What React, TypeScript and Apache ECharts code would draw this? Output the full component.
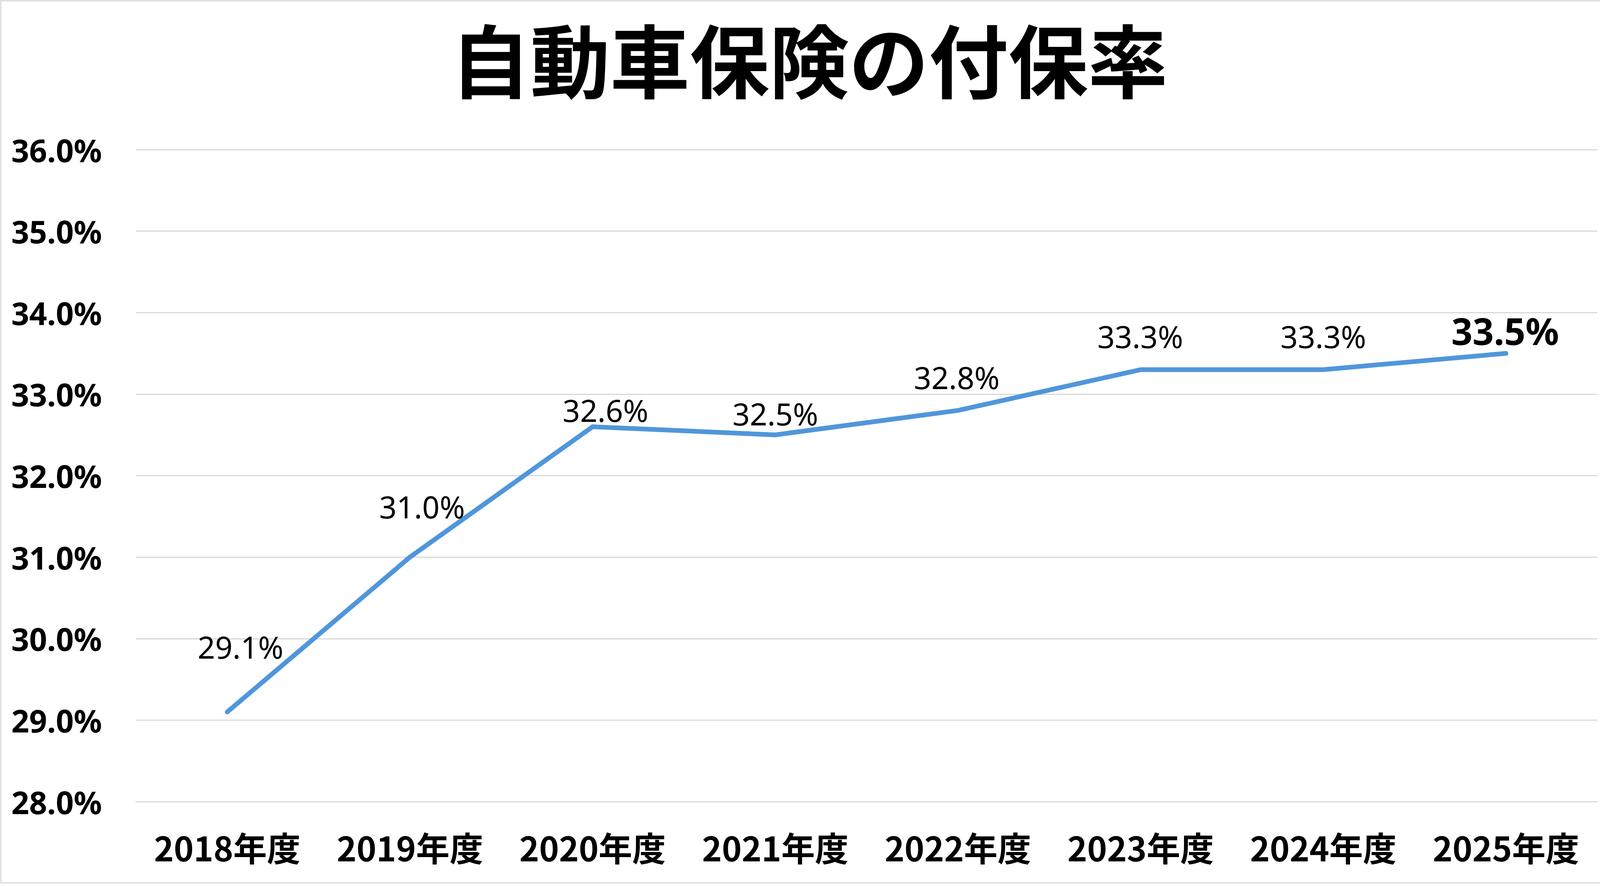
import React, { useEffect, useRef } from "react";
import * as echarts from "echarts";

const titleText = "自動車保険の付保率";
const categories = ["2018年度", "2019年度", "2020年度", "2021年度", "2022年度", "2023年度", "2024年度", "2025年度"];
const rates = [29.1, 31.0, 32.6, 32.5, 32.8, 33.3, 33.3, 33.5];
const yMin = 28;
const yMax = 36;
const yStep = 1;

// label styling (offsets in px relative to point, emphasis on last)
const labelOffsets: [number, number][] = [
  [34, -167],
  [31, -129],
  [33, -42],
  [0, -54],
  [-3, -85],
  [-1, -85],
  [0, -85],
  [-2, -59],
];
const boldIndex = 7;

export default function App() {
  const ref = useRef<HTMLDivElement>(null);
  useEffect(() => {
    document.body.style.margin = "0";
    const chart = echarts.init(ref.current!, undefined, { renderer: "svg" });
    const lineColor = "#5096DA";
    chart.setOption({
      animation: false,
      backgroundColor: "#FFFFFF",
      title: {
        text: titleText,
        left: "center",
        top: 40,
        textStyle: {
          fontFamily: "Noto Sans CJK JP",
          fontWeight: "bold",
          fontSize: 204,
          color: "#000000",
        },
      },
      graphic: [
        {
          type: "rect",
          shape: { x: 2, y: 2, width: 4137, height: 2258 },
          style: { fill: "none", stroke: "#D9D9D9", lineWidth: 3 },
          silent: true,
        },
      ],
      grid: { left: 348, right: 54, top: 383, bottom: 216, containLabel: false },
      xAxis: {
        type: "category",
        data: categories,
        boundaryGap: true,
        axisLine: { show: true, lineStyle: { color: "#D9D9D9", width: 3 } },
        axisTick: { show: false },
        axisLabel: {
          interval: 0,
          margin: 72,
          fontFamily: "Noto Sans CJK JP",
          fontWeight: "bold",
          fontSize: 86,
          color: "#000000",
        },
      },
      yAxis: {
        type: "value",
        min: yMin,
        max: yMax,
        interval: yStep,
        axisLine: { show: false },
        axisTick: { show: false },
        splitLine: { show: true, lineStyle: { color: "#D9D9D9", width: 3 } },
        axisLabel: {
          margin: 87,
          fontFamily: "Noto Sans",
          fontWeight: "bold",
          fontSize: 80,
          color: "#000000",
          formatter: (v: number) => v.toFixed(1) + "%",
        },
      },
      series: [
        {
          type: "line",
          data: rates.map((v, i) => ({
            value: v,
            label: {
              offset: labelOffsets[i],
              fontWeight: i === boldIndex ? "bold" : "normal",
              fontSize: i === boldIndex ? 95 : 78,
            },
          })),
          symbol: "circle",
          symbolSize: 0.1,
          itemStyle: { color: lineColor },
          lineStyle: { color: lineColor, width: 12, cap: "round", join: "round" },
          label: {
            show: true,
            position: "inside",
            fontFamily: "Noto Sans",
            color: "#000000",
            fontSize: 78,
            formatter: (p: any) => Number(p.value).toFixed(1) + "%",
          },
        },
      ],
    });
    return () => chart.dispose();
  }, []);
  return <div ref={ref} style={{ width: 4143, height: 2268 }} />;
}
